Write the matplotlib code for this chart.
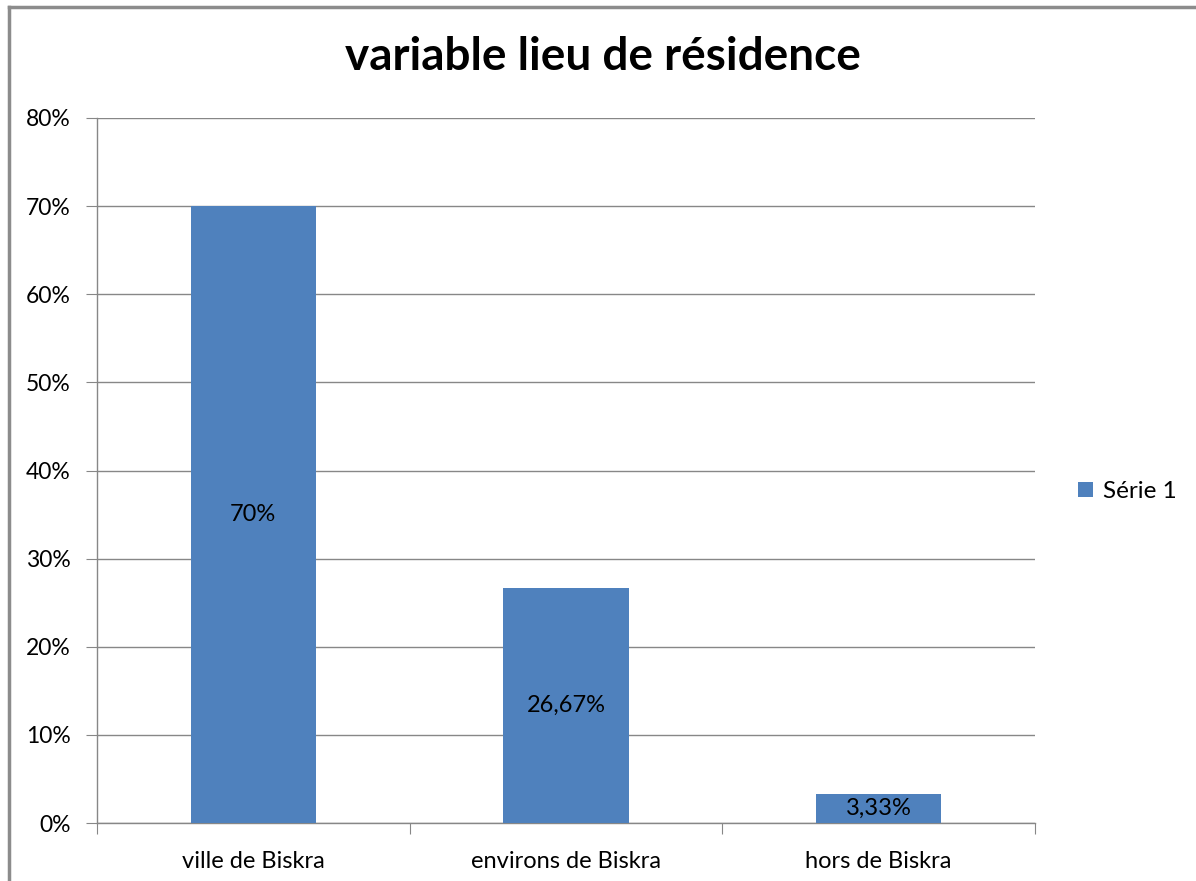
import matplotlib

matplotlib.use("Agg")
import matplotlib.pyplot as plt
from matplotlib.lines import Line2D
from matplotlib.ticker import FuncFormatter

categories = ["ville de Biskra", "environs de Biskra", "hors de Biskra"]
values = [70.0, 26.67, 3.33]
value_labels = ["70%", "26,67%", "3,33%"]
series_name = "Série 1"
title = "variable lieu de résidence"

bar_color = "#4f81bd"
grid_color = "#878787"

plt.rcParams["font.family"] = ["Lato", "DejaVu Sans"]

fig = plt.figure(figsize=(11.96, 8.81), dpi=100)
W, H = 1196, 881
ax = fig.add_axes([97 / W, 1 - 823 / H, (1035 - 97) / W, (823 - 118) / H])

x = range(len(categories))
bars = ax.bar(x, values, width=0.4, color=bar_color, label=series_name, zorder=3)
for rect, lab in zip(bars, value_labels):
    ax.text(rect.get_x() + rect.get_width() / 2, rect.get_height() / 2, lab,
            ha="center", va="center", fontsize=17, color="black", zorder=4)

ax.set_xlim(-0.5, len(categories) - 0.5)
ax.set_ylim(0, 80)
ax.set_yticks(range(0, 81, 10))
ax.yaxis.set_major_formatter(FuncFormatter(lambda v, _: f"{v:.0f}%"))
ax.set_xticks([-0.5, 0.5, 1.5, 2.5])
ax.set_xticklabels([])
ax.set_xticks(list(x), minor=True)
ax.set_xticklabels(categories, minor=True)
ax.tick_params(axis="x", which="minor", length=0, labelsize=17, pad=20)
ax.tick_params(axis="x", which="major", length=8, color=grid_color)
ax.tick_params(axis="y", length=8, color=grid_color, labelsize=16.5, pad=11)

ax.grid(axis="y", color=grid_color, linewidth=1, zorder=0)
for side in ("top", "right"):
    ax.spines[side].set_visible(False)
for side in ("left", "bottom"):
    ax.spines[side].set_color(grid_color)
    ax.spines[side].set_linewidth(1)

fig.text(603 / W, 1 - 57 / H, title, ha="center", va="center",
         fontsize=33, fontweight="bold")

ax.legend(loc="center left", bbox_to_anchor=(1.023, 0.47), frameon=False,
          fontsize=17.5, handlelength=0.6, handleheight=0.6, handletextpad=0.4)

# chart-area border (only top and left visible in the crop)
fig.add_artist(Line2D([8.5 / W, 8.5 / W], [0, 1 - 6.5 / H], color="#8c8c8c", lw=2.5))
fig.add_artist(Line2D([8.5 / W, 1], [1 - 6.5 / H, 1 - 6.5 / H], color="#8c8c8c", lw=2.5))

fig.savefig("out.png", dpi=100)
